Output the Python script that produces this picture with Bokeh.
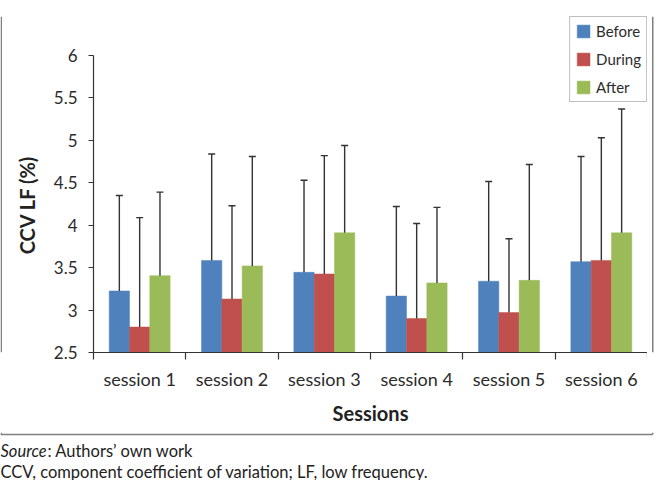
import math
from bokeh.plotting import figure
from bokeh.layouts import column, row
from bokeh.models import (ColumnDataSource, Range1d, FixedTicker, CustomJSTickFormatter,
                          Whisker, TeeHead, Label)
from bokeh.embed import file_html
from bokeh.resources import INLINE

sessions = ["session 1", "session 2", "session 3", "session 4", "session 5", "session 6"]
series = ["Before", "During", "After"]
before = [3.225, 3.585, 3.445, 3.165, 3.34, 3.57]
during = [2.80, 3.13, 3.425, 2.90, 2.97, 3.585]
after = [3.405, 3.52, 3.91, 3.32, 3.35, 3.91]
before_upper = [4.35, 4.84, 4.53, 4.22, 4.515, 4.81]
during_upper = [4.09, 4.23, 4.82, 4.02, 3.84, 5.03]
after_upper = [4.39, 4.81, 4.94, 4.21, 4.715, 5.37]
colors = ["#4F81BD", "#C0504D", "#9BBB59"]
y_ticks = [2.5, 3, 3.5, 4, 4.5, 5, 5.5, 6]
y_title = "CCV LF (%)"
x_title = "Sessions"
source_note = ["Source", ": Authors\u2019 own work"]
abbrev_note = "CCV, component coefficient of variation; LF, low frequency."

FONT = "Lato"
TXT = "#2b2b2b"
AXIS = "#333333"
BORDER = "#808080"
BW = 1.5

W = 654
TOP_H = 4
MID_H = 428
FOOT_H = 48
YLAB_W = 40
RSTRIP_W = 7
CHART_W = W - YLAB_W - RSTRIP_W

FRAME_LEFT = 93
FRAME_TOP = 16
Y6 = 55
Y25 = 352


def blank(width, height):
    f = figure(width=width, height=height, output_backend="svg", toolbar_location=None,
               x_axis_type=None, y_axis_type=None,
               x_range=Range1d(0, width), y_range=Range1d(height, 0),
               min_border=0, min_border_left=0, min_border_right=0,
               min_border_top=0, min_border_bottom=0)
    f.xgrid.visible = False
    f.ygrid.visible = False
    f.outline_line_color = None
    return f


# ---------------- main chart ----------------
px_per_unit = (Y25 - Y6) / (y_ticks[-1] - y_ticks[0])
frame_h = Y25 - FRAME_TOP
p = figure(width=CHART_W, height=MID_H, output_backend="svg", toolbar_location=None,
           x_range=Range1d(0, len(sessions)),
           y_range=Range1d(y_ticks[0], y_ticks[0] + frame_h / px_per_unit),
           min_border_left=FRAME_LEFT - YLAB_W, min_border_right=0,
           min_border_top=FRAME_TOP - TOP_H, min_border_bottom=TOP_H + MID_H - Y25)
p.xgrid.visible = False
p.ygrid.visible = False
p.outline_line_color = None

offsets = [-0.22, 0.0, 0.22]
vals = [before, during, after]
uppers = [before_upper, during_upper, after_upper]
for name, off, v, up, c in zip(series, offsets, vals, uppers, colors):
    src = ColumnDataSource(dict(x=[i + 0.5 + off for i in range(len(sessions))], top=v, upper=up))
    p.vbar(x="x", top="top", bottom=y_ticks[0], width=0.22, source=src,
           fill_color=c, line_color=c, line_width=0.5, legend_label=name)
    w = Whisker(source=src, base="x", lower="top", upper="upper", dimension="height",
                line_color="#333333", line_width=1.4, level="overlay",
                upper_head=TeeHead(size=7, line_color="#333333", line_width=1.4),
                lower_head=None)
    p.add_layout(w)

xa = p.xaxis[0]
xa.ticker = FixedTicker(ticks=[i + 0.5 for i in range(len(sessions))],
                        minor_ticks=list(range(len(sessions) + 1)))
xa.formatter = CustomJSTickFormatter(args=dict(labels=sessions),
                                     code="return labels[Math.floor(tick)];")
xa.major_tick_out = 0
xa.major_tick_in = 0
xa.minor_tick_out = 7
xa.minor_tick_in = 0
xa.minor_tick_line_color = AXIS
xa.minor_tick_line_width = 1.2
xa.axis_line_color = AXIS
xa.axis_line_width = 1.2
xa.major_label_text_font = FONT
xa.major_label_text_font_size = "18px"
xa.major_label_text_color = TXT
xa.major_label_standoff = 8
xa.axis_label = x_title
xa.axis_label_text_font = FONT
xa.axis_label_text_font_style = "bold"
xa.axis_label_text_font_size = "20px"
xa.axis_label_text_color = "#222222"
xa.axis_label_standoff = 8

ya = p.yaxis[0]
ya.ticker = FixedTicker(ticks=y_ticks, minor_ticks=[])
ya.formatter = CustomJSTickFormatter(code="return String(Math.round(tick*10)/10);")
ya.bounds = (y_ticks[0], y_ticks[-1])
ya.major_tick_out = 5
ya.major_tick_in = 0
ya.minor_tick_out = 0
ya.minor_tick_in = 0
ya.major_tick_line_color = AXIS
ya.major_tick_line_width = 1.2
ya.axis_line_color = AXIS
ya.axis_line_width = 1.2
ya.major_label_text_font = FONT
ya.major_label_text_font_size = "17px"
ya.major_label_text_color = TXT
ya.major_label_standoff = 11

lg = p.legend[0]
lg.location = "top_right"
lg.margin = 0
lg.padding = 5
lg.spacing = 10
lg.glyph_width = 16
lg.glyph_height = 16
lg.label_height = 16
lg.label_standoff = 5
lg.label_text_font = FONT
lg.label_text_font_size = "15px"
lg.label_text_color = TXT
lg.border_line_color = BORDER
lg.border_line_width = 1.5
lg.background_fill_alpha = 1.0

# ---------------- y title strip (with left border) ----------------
yl = blank(YLAB_W, MID_H)
yl.segment(x0=[BW / 2], y0=[0], x1=[BW / 2], y1=[MID_H], line_color=BORDER, line_width=BW)
yl.add_layout(Label(x=26, y=240, text=y_title, angle=math.pi / 2,
                    text_align="center", text_baseline="middle",
                    text_font=FONT, text_font_style="bold", text_font_size="20px",
                    text_color="#222222"))

# ---------------- right strip (right border) ----------------
rs = blank(RSTRIP_W, MID_H)
rs.segment(x0=[RSTRIP_W - 1.75], y0=[0], x1=[RSTRIP_W - 1.75], y1=[MID_H],
           line_color=BORDER, line_width=BW)

# ---------------- top strip (top border) ----------------
xr = W - 1.75
ts = blank(W, TOP_H)
ts.segment(x0=[0, BW / 2, xr], y0=[BW / 2, 0, 0], x1=[xr, BW / 2, xr], y1=[BW / 2, TOP_H, TOP_H],
           line_color=BORDER, line_width=BW)

# ---------------- footer (bottom border + notes) ----------------
ft = blank(W, FOOT_H)
ft.segment(x0=[0, BW / 2, xr], y0=[2, 0, 0], x1=[xr, BW / 2, xr], y1=[2, 2, 2],
           line_color=BORDER, line_width=BW)
note = dict(text_baseline="middle", text_align="left", text_font=FONT,
            text_font_size="16.5px", text_color="#222222")
ft.add_layout(Label(x=0, y=18, text=source_note[0], text_font_style="italic", **note))
ft.add_layout(Label(x=47, y=18, text=source_note[1], **note))
ft.add_layout(Label(x=0, y=39, text=abbrev_note, **note))

layout = column(ts, row(yl, p, rs, spacing=0), ft, spacing=0)

open("out.html", "w").write(file_html(layout, INLINE))
